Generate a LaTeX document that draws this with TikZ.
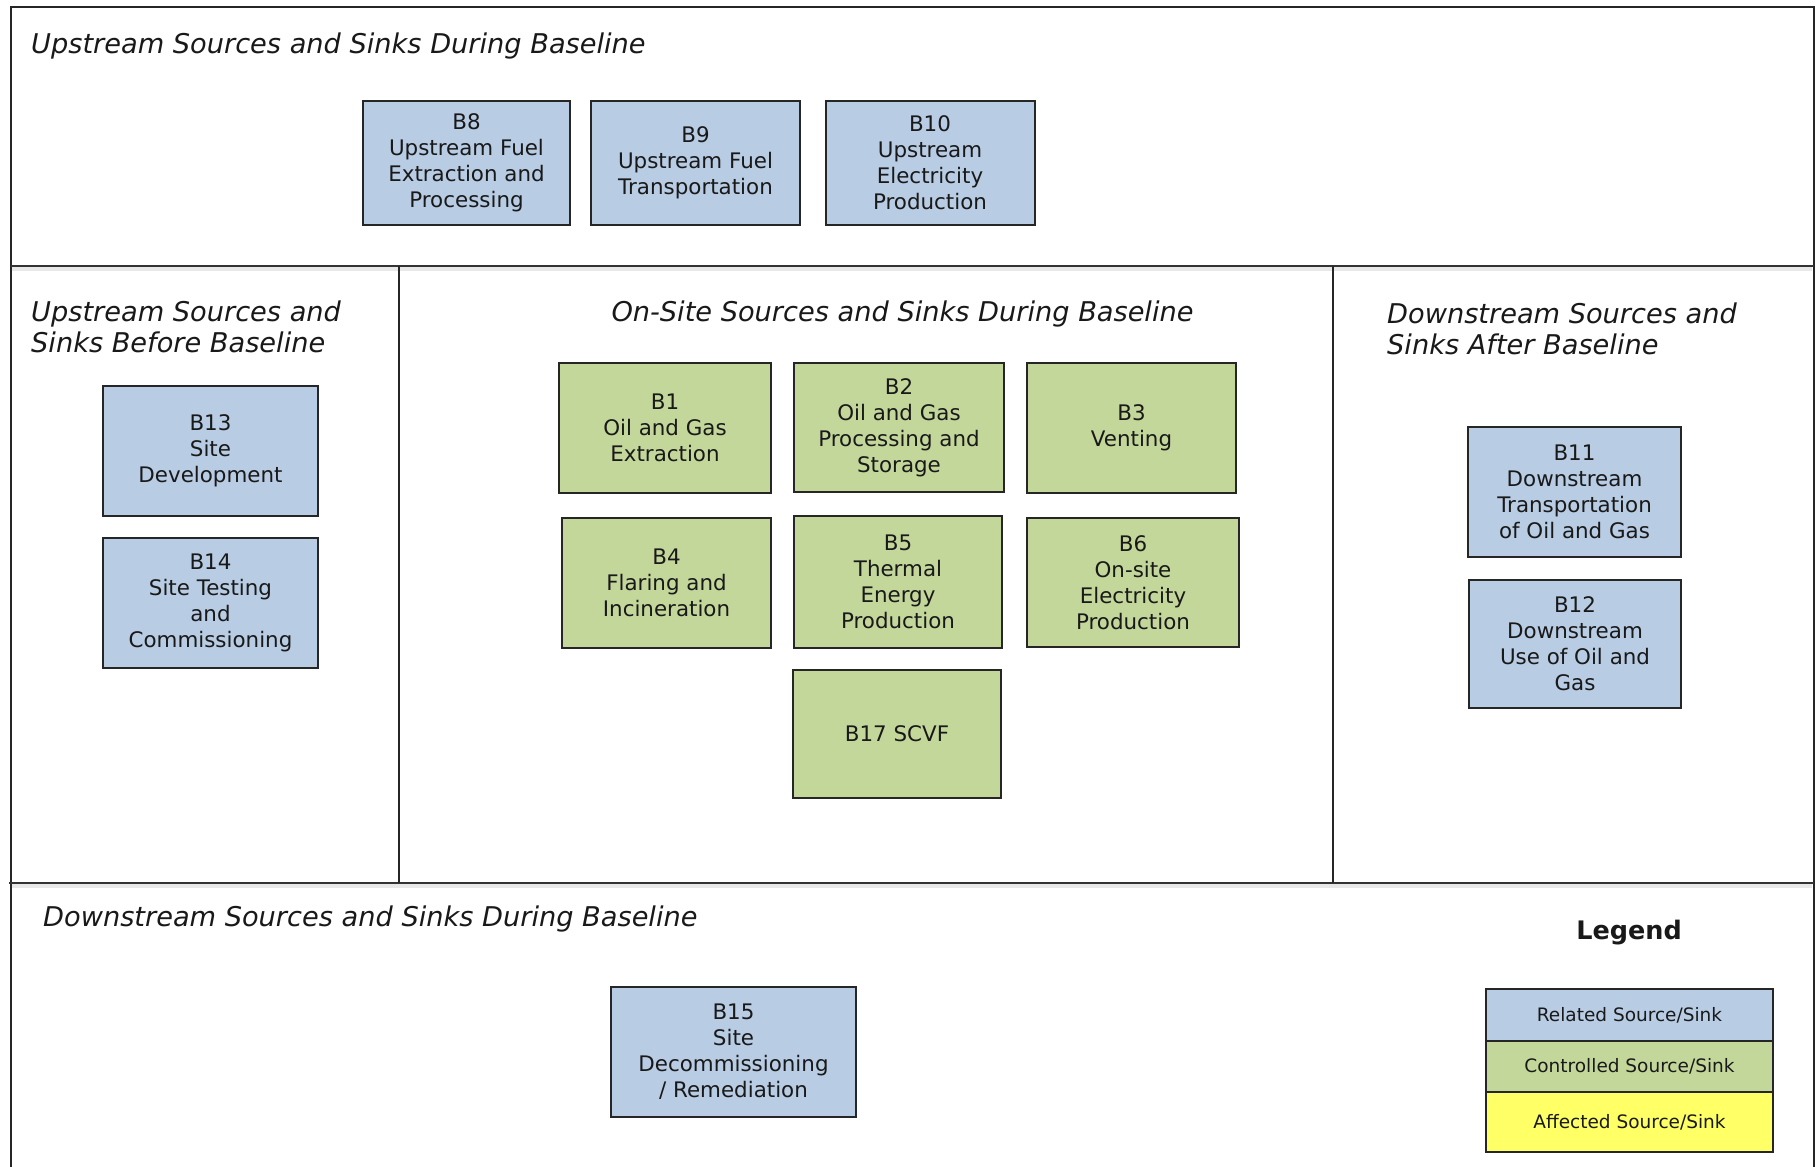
\documentclass[tikz,border=0pt]{standalone}
\usepackage{fontspec}
\setmainfont{DejaVu Sans}
\begin{document}
\begin{tikzpicture}[x=1pt,y=-1pt,
  framecol/.style={line width=2pt,draw=black!85},
  divider/.style={line width=2.6pt,draw=black!80},
  shadowline/.style={line width=4pt,draw=black!9},
  srcbox/.style={draw=black!85,line width=2pt,inner sep=0pt,align=center,
    font=\fontsize{21.4}{26}\selectfont,text=black!90},
  related/.style={srcbox,fill=relblue},
  controlled/.style={srcbox,fill=ctlgreen},
  zonetitle/.style={anchor=west,inner sep=0pt,align=left,
    font=\fontsize{27.2}{31.5}\selectfont\itshape,text=black!90},
  legendrow/.style={draw=black!85,line width=2pt,inner sep=0pt,
    minimum width=287pt,font=\fontsize{18.5}{22}\selectfont,text=black!90}
]
\definecolor{relblue}{HTML}{B8CCE4}
\definecolor{ctlgreen}{HTML}{C4D79B}
\definecolor{affyellow}{HTML}{FFFF66}
\useasboundingbox (0,0) rectangle (1818,1167);
\fill[white] (0,0) rectangle (1818,1167);

% soft shadows directly under the horizontal dividers
\draw[shadowline] (12,269.3) -- (1812,269.3);
\draw[shadowline] (12,886.3) -- (1812,886.3);
% outer frame and dividers
\draw[framecol] (11,1167) -- (11,7) -- (1814,7) -- (1814,1167);
\draw[divider] (11,266) -- (1814,266);
\draw[divider] (9,883) -- (1814,883);
\draw[framecol] (399,266) -- (399,883);
\draw[framecol] (1333,266) -- (1333,883);

% zone titles
\node[zonetitle] (t-up) at (31,46) {Upstream Sources and Sinks During Baseline};
\node[zonetitle] (t-before) at (31,327) {Upstream Sources and\\Sinks Before Baseline};
\node[zonetitle,anchor=center] (t-onsite) at (902.5,314) {On-Site Sources and Sinks During Baseline};
\node[zonetitle] (t-after) at (1387,329) {Downstream Sources and\\Sinks After Baseline};
\node[zonetitle] (t-down) at (43,919) {Downstream Sources and Sinks During Baseline};

% upstream during baseline
\node[related,minimum width=207pt,minimum height=124pt] (b8) at (466.5,163)
  {B8\\Upstream Fuel\\Extraction and\\Processing};
\node[related,minimum width=209pt,minimum height=124pt] (b9) at (695.5,163)
  {B9\\Upstream Fuel\\Transportation};
\node[related,minimum width=209pt,minimum height=124pt] (b10) at (930,163)
  {B10\\Upstream\\Electricity\\Production};

% upstream before baseline
\node[related,minimum width=215pt,minimum height=130pt] (b13) at (210.5,451)
  {B13\\Site\\Development};
\node[related,minimum width=215pt,minimum height=130pt] (b14) at (210.5,603)
  {B14\\Site Testing\\and\\Commissioning};

% on-site
\node[controlled,minimum width=212pt,minimum height=130pt] (b1) at (665,428)
  {B1\\Oil and Gas\\Extraction};
\node[controlled,minimum width=210pt,minimum height=129pt] (b2) at (899,427.5)
  {B2\\Oil and Gas\\Processing and\\Storage};
\node[controlled,minimum width=209pt,minimum height=130pt] (b3) at (1131.5,428)
  {B3\\Venting};
\node[controlled,minimum width=209pt,minimum height=130pt] (b4) at (666.5,583)
  {B4\\Flaring and\\Incineration};
\node[controlled,minimum width=208pt,minimum height=132pt] (b5) at (898,582)
  {B5\\Thermal\\Energy\\Production};
\node[controlled,minimum width=212pt,minimum height=129pt] (b6) at (1133,582.5)
  {B6\\On-site\\Electricity\\Production};
\node[controlled,minimum width=208pt,minimum height=128pt] (b17) at (897,734)
  {B17 SCVF};

% downstream after baseline
\node[related,minimum width=213pt,minimum height=130pt] (b11) at (1574.5,491.5)
  {B11\\Downstream\\Transportation\\of Oil and Gas};
\node[related,minimum width=212pt,minimum height=128pt] (b12) at (1575,644)
  {B12\\Downstream\\Use of Oil and\\Gas};

% downstream during baseline
\node[related,minimum width=245pt,minimum height=130pt] (b15) at (733.5,1052)
  {B15\\Site\\Decommissioning\\/ Remediation};

% legend
\node[font=\fontsize{25.5}{30}\selectfont\bfseries,text=black!90] (legend) at (1629,933) {Legend};
\node[legendrow,fill=relblue,minimum height=52pt] (lg-rel) at (1629.5,1015) {Related Source/Sink};
\node[legendrow,fill=ctlgreen,minimum height=51pt] (lg-ctl) at (1629.5,1066.5) {Controlled Source/Sink};
\node[legendrow,fill=affyellow,minimum height=60pt] (lg-aff) at (1629.5,1122) {Affected Source/Sink};
\end{tikzpicture}
\end{document}
